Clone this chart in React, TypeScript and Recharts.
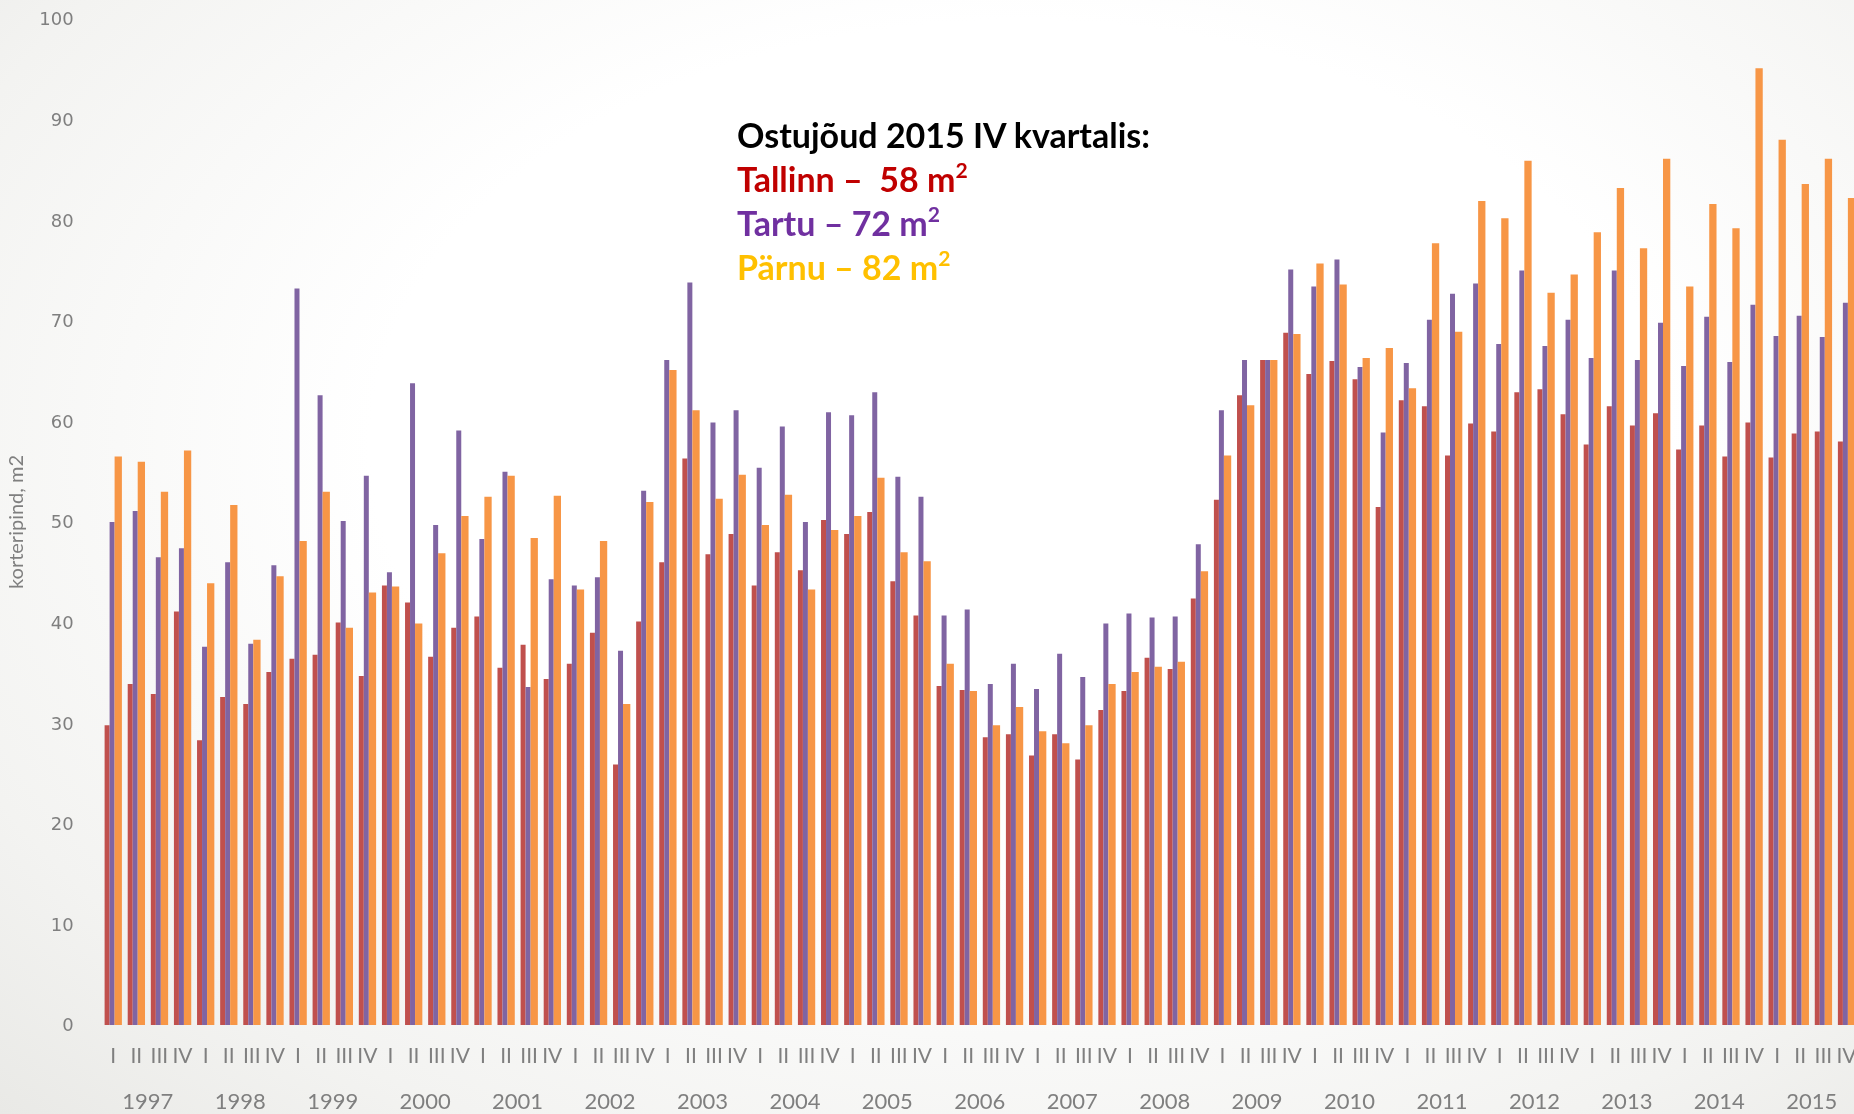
import { BarChart, Bar, XAxis, YAxis } from 'recharts';

const quarters = ['I', 'II', 'III', 'IV'];
const years = [
  '1997', '1998', '1999', '2000', '2001', '2002', '2003', '2004', '2005', '2006',
  '2007', '2008', '2009', '2010', '2011', '2012', '2013', '2014', '2015',
];
const yTicks = [0, 10, 20, 30, 40, 50, 60, 70, 80, 90, 100];

// one value per quarter, four per row (one row = one year)
const tallinn = [
  29.8, 33.9, 32.9, 41.1,
  28.3, 32.6, 31.9, 35.1,
  36.4, 36.8, 40.0, 34.7,
  43.7, 42.0, 36.6, 39.5,
  40.6, 35.5, 37.8, 34.4,
  35.9, 39.0, 25.9, 40.1,
  46.0, 56.3, 46.8, 48.8,
  43.7, 47.0, 45.2, 50.2,
  48.8, 51.0, 44.1, 40.7,
  33.7, 33.3, 28.6, 28.9,
  26.8, 28.9, 26.4, 31.3,
  33.2, 36.5, 35.4, 42.4,
  52.2, 62.6, 66.1, 68.8,
  64.7, 66.0, 64.2, 51.5,
  62.1, 61.5, 56.6, 59.8,
  59.0, 62.9, 63.2, 60.7,
  57.7, 61.5, 59.6, 60.8,
  57.2, 59.6, 56.5, 59.9,
  56.4, 58.8, 59.0, 58.0,
];

const tartu = [
  50.0, 51.1, 46.5, 47.4,
  37.6, 46.0, 37.9, 45.7,
  73.2, 62.6, 50.1, 54.6,
  45.0, 63.8, 49.7, 59.1,
  48.3, 55.0, 33.6, 44.3,
  43.7, 44.5, 37.2, 53.1,
  66.1, 73.8, 59.9, 61.1,
  55.4, 59.5, 50.0, 60.9,
  60.6, 62.9, 54.5, 52.5,
  40.7, 41.3, 33.9, 35.9,
  33.4, 36.9, 34.6, 39.9,
  40.9, 40.5, 40.6, 47.8,
  61.1, 66.1, 66.1, 75.1,
  73.4, 76.1, 65.4, 58.9,
  65.8, 70.1, 72.7, 73.7,
  67.7, 75.0, 67.5, 70.1,
  66.3, 75.0, 66.1, 69.8,
  65.5, 70.4, 65.9, 71.6,
  68.5, 70.5, 68.4, 71.8,
];

const parnu = [
  56.5, 56.0, 53.0, 57.1,
  43.9, 51.7, 38.3, 44.6,
  48.1, 53.0, 39.5, 43.0,
  43.6, 39.9, 46.9, 50.6,
  52.5, 54.6, 48.4, 52.6,
  43.3, 48.1, 31.9, 52.0,
  65.1, 61.1, 52.3, 54.7,
  49.7, 52.7, 43.3, 49.2,
  50.6, 54.4, 47.0, 46.1,
  35.9, 33.2, 29.8, 31.6,
  29.2, 28.0, 29.8, 33.9,
  35.1, 35.6, 36.1, 45.1,
  56.6, 61.6, 66.1, 68.7,
  75.7, 73.6, 66.3, 67.3,
  63.3, 77.7, 68.9, 81.9,
  80.2, 85.9, 72.8, 74.6,
  78.8, 83.2, 77.2, 86.1,
  73.4, 81.6, 79.2, 95.1,
  88.0, 83.6, 86.1, 82.2,
];

const data = years.flatMap((year, yi) =>
  quarters.map((quarter, qi) => {
    const i = yi * 4 + qi;
    return {
      key: `${year} ${quarter}`,
      year,
      quarter,
      tallinn: tallinn[i],
      tartu: tartu[i],
      parnu: parnu[i],
    };
  })
);

const CHART_W = 1858;
const Y_AXIS_W = 101.6;
const BAND = (CHART_W - Y_AXIS_W) / data.length;

const labelFont = 'Lato, "Noto Sans", sans-serif';
const gray = '#7f7f7f';

const QuarterTick = (props: any) => {
  const { x, y, index } = props;
  const row = data[index];
  if (!row) return null;
  return (
    <g>
      <text x={x} y={y + 38} textAnchor="middle" fill={gray} fontSize={21} fontFamily={labelFont}>
        {row.quarter}
      </text>
      {index % 4 === 1 && (
        <text x={x + BAND / 2} y={y + 84} textAnchor="middle" fill={gray} fontSize={22} fontFamily={labelFont}>
          {row.year}
        </text>
      )}
    </g>
  );
};

const AxisTitle = (props: any) => {
  const vb = props.viewBox || { y: 19, height: 1006 };
  const cx = 15;
  const cy = vb.y + vb.height / 2;
  return (
    <text
      x={cx}
      y={cy}
      transform={`rotate(-90 ${cx} ${cy})`}
      textAnchor="middle"
      dominantBaseline="central"
      fill={gray}
      fontSize={20}
      fontFamily={labelFont}
    >
      korteripind, m2
    </text>
  );
};

const title = 'Ostujõud 2015 IV kvartalis:';
const cities = [
  { text: 'Tallinn –  58 m', color: '#C00000' },
  { text: 'Tartu – 72 m', color: '#7030A0' },
  { text: 'Pärnu – 82 m', color: '#FFC000' },
];

export default function App() {
  return (
    <div
      style={{
        position: 'fixed',
        top: 0,
        left: 0,
        width: 1854,
        height: 1114,
        overflow: 'hidden',
        background: 'radial-gradient(ellipse at 55% 40%, #ffffff 45%, #f3f3f1 80%, #e9e9e6 100%)',
      }}
    >
      <BarChart
        width={CHART_W}
        height={1114}
        data={data}
        margin={{ top: 19, right: 0, bottom: 0, left: 0 }}
        barGap={0}
      >
        <XAxis
          dataKey="key"
          interval={0}
          axisLine={false}
          tickLine={false}
          tickSize={0}
          tickMargin={0}
          height={89}
          tick={(p: any) => <QuarterTick {...p} />}
        />
        <YAxis
          domain={[0, 100]}
          ticks={yTicks}
          width={Y_AXIS_W}
          axisLine={false}
          tickLine={false}
          tickSize={0}
          tickMargin={28}
          tick={{ fill: gray, fontSize: 18, fontFamily: '"DejaVu Sans", sans-serif' }}
          label={{ content: (p: any) => <AxisTitle {...p} /> }}
        />
        <Bar dataKey="tallinn" fill="#C0504D" barSize={5} isAnimationActive={false} />
        <Bar dataKey="tartu" fill="#8064A2" barSize={5} isAnimationActive={false} />
        <Bar dataKey="parnu" fill="#F79646" barSize={7.3} isAnimationActive={false} />
      </BarChart>
      <div
        style={{
          position: 'absolute',
          left: 737,
          top: 113,
          fontFamily: labelFont,
          fontWeight: 'bold',
          fontSize: 34,
          lineHeight: '44px',
          whiteSpace: 'pre',
        }}
      >
        <div style={{ color: '#000000', height: 44 }}>{title}</div>
        {cities.map((c) => (
          <div key={c.text} style={{ color: c.color, height: 44 }}>
            {c.text}
            <span style={{ fontSize: '0.62em', lineHeight: 0, position: 'relative', top: '-0.65em' }}>2</span>
          </div>
        ))}
      </div>
    </div>
  );
}
